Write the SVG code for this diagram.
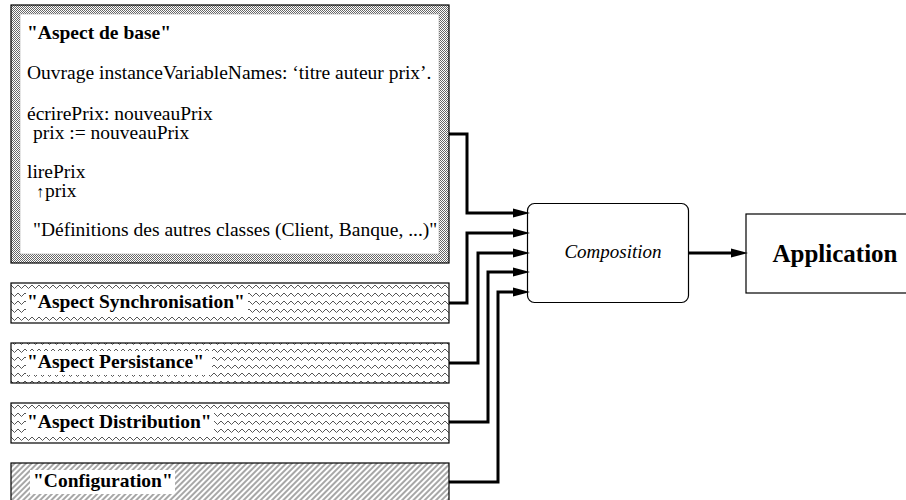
<svg xmlns="http://www.w3.org/2000/svg" width="906" height="500" viewBox="0 0 906 500">
<style>
.t{font-family:"Liberation Serif","Times New Roman",serif;font-size:19.5px;fill:#000}
.b{font-weight:bold}
.arrowup{font-size:16px}
.comp{font-style:italic;font-size:19px}
.app{font-size:25px}
.frame{fill:none;stroke:#000;stroke-width:1.2}
.conn{fill:none;stroke:#000;stroke-width:3;stroke-linejoin:miter}
.bg{fill:#fff}
</style>
<defs>
<pattern id="checker" width="2" height="2" patternUnits="userSpaceOnUse">
<rect width="2" height="2" fill="#fff"/>
<rect width="1" height="1" fill="#666"/>
<rect x="1" y="1" width="1" height="1" fill="#666"/>
</pattern>
<pattern id="zig" x="11" y="283" width="7" height="8" patternUnits="userSpaceOnUse">
<rect width="7" height="8" fill="#fff"/>
<path d="M0,2 L3.5,5.5 L7,2" fill="none" stroke="#444" stroke-width="0.9"/>
</pattern>
<pattern id="hatch" width="4" height="4" patternUnits="userSpaceOnUse" patternTransform="rotate(-45)">
<rect width="4" height="4" fill="#fff"/>
<line x1="0" y1="2" x2="4" y2="2" stroke="#222" stroke-width="0.8"/>
</pattern>
<marker id="arr" markerUnits="userSpaceOnUse" markerWidth="18" markerHeight="10" refX="7" refY="5" orient="auto">
<path d="M0,0.5 L17,5 L0,9.5 z" fill="#000"/>
</marker>
</defs>

<g id="base">
<rect x="11" y="5" width="438" height="258" fill="url(#checker)"/>
<rect x="20" y="14" width="419" height="240" class="bg" stroke="#999" stroke-width="0.5"/>
<rect x="11" y="5" width="438" height="258" class="frame"/>
<text class="t b" x="27" y="39">"Aspect de base"</text>
<text class="t" x="27" y="79">Ouvrage instanceVariableNames: ‘titre auteur prix’.</text>
<text class="t" x="27" y="120">écrirePrix: nouveauPrix</text>
<text class="t" x="33" y="139">prix := nouveauPrix</text>
<text class="t" x="27" y="178">lirePrix</text>
<text class="t arrowup" x="36" y="197">↑</text>
<text class="t" x="45" y="197">prix</text>
<text class="t" x="33" y="236">"Définitions des autres classes (Client, Banque, ...)"</text>
</g>

<g id="sync">
<rect x="11" y="283" width="438" height="40" fill="url(#zig)"/>
<rect x="26" y="291" width="222" height="24" class="bg"/>
<rect x="11" y="283" width="438" height="40" class="frame"/>
<text class="t b" x="27" y="308">"Aspect Synchronisation"</text>
</g>

<g id="persistance">
<rect x="11" y="343" width="438" height="40" fill="url(#zig)"/>
<rect x="26" y="351" width="186" height="24" class="bg"/>
<rect x="11" y="343" width="438" height="40" class="frame"/>
<text class="t b" x="27" y="368">"Aspect Persistance"</text>
</g>

<g id="distribution">
<rect x="11" y="403" width="438" height="40" fill="url(#zig)"/>
<rect x="26" y="411" width="188" height="24" class="bg"/>
<rect x="11" y="403" width="438" height="40" class="frame"/>
<text class="t b" x="27" y="428">"Aspect Distribution"</text>
</g>

<g id="configuration">
<rect x="11" y="463" width="438" height="40" fill="url(#hatch)"/>
<rect x="30" y="470" width="145" height="24" class="bg"/>
<rect x="11" y="463" width="438" height="40" class="frame"/>
<text class="t b" x="33" y="487">"Configuration"</text>
</g>

<g id="composition">
<rect x="527.5" y="203.5" width="161" height="99" rx="7" fill="#fff" stroke="#000" stroke-width="1.2"/>
<text class="t comp" x="613" y="258" text-anchor="middle">Composition</text>
</g>

<g id="application">
<rect x="746" y="214" width="180" height="79" fill="#fff" stroke="#000" stroke-width="1.2"/>
<text class="t b app" x="835" y="262" text-anchor="middle">Application</text>
</g>

<g id="connectors">
<path class="conn" d="M449,134 H467 V213 H520" marker-end="url(#arr)"/>
<path class="conn" d="M449,303 H467 V233 H520" marker-end="url(#arr)"/>
<path class="conn" d="M449,363 H478 V253 H520" marker-end="url(#arr)"/>
<path class="conn" d="M449,422 H488 V272 H520" marker-end="url(#arr)"/>
<path class="conn" d="M449,482 H498 V292 H520" marker-end="url(#arr)"/>
<path class="conn" d="M688,253 H738" marker-end="url(#arr)"/>
</g>
</svg>
